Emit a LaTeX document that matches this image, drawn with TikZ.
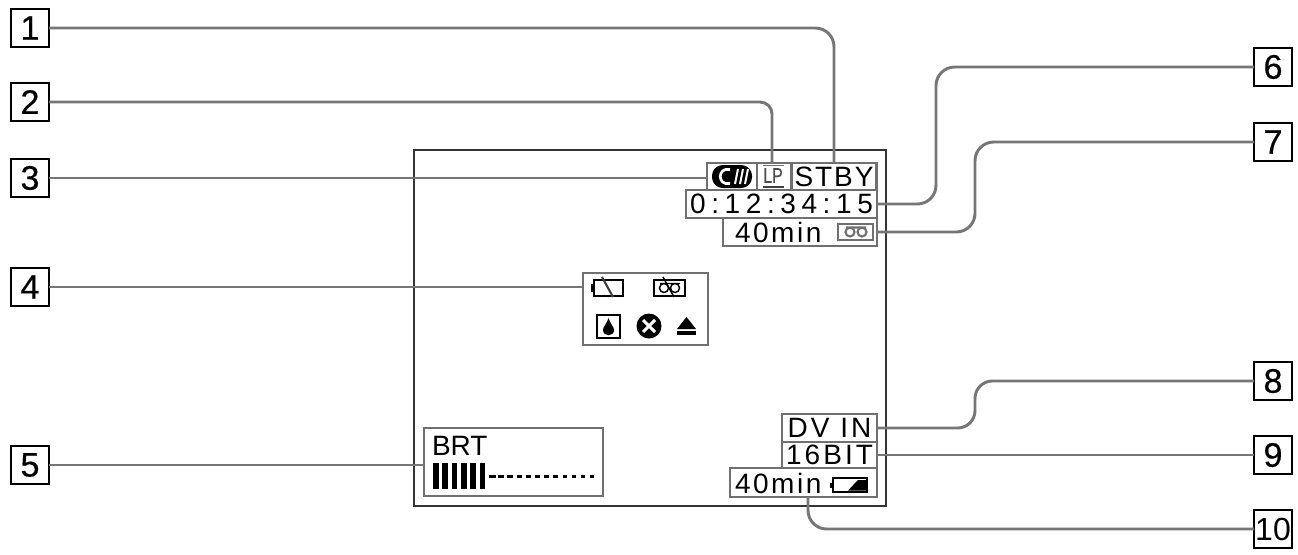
\documentclass[tikz,border=0pt]{standalone}
\usepackage{fontspec}
\usepackage{graphicx}
\setmainfont{Liberation Sans}
\usetikzlibrary{calc}
\definecolor{lead}{HTML}{767676}
\definecolor{fr}{HTML}{333333}
\definecolor{boxg}{HTML}{707070}
\tikzset{
 sz/.style 2 args={minimum width=#1*0.75pt,minimum height=#2*0.75pt},
 tag/.style={draw=black,line width=1.5pt,fill=white,inner sep=0pt,outer sep=0pt,sz={38}{38},font=\fontsize{25.5}{25.5}\selectfont\addfontfeature{FakeBold=0.5}},
 disp/.style={draw=boxg,line width=2.1pt,inner sep=0pt,outer sep=0pt,font=\fontsize{21}{21}\selectfont},
 screen/.style={draw=fr,line width=1.6pt,inner sep=0pt,outer sep=0pt},
 leader/.style={draw=lead,line width=2.2pt,rounded corners=14pt},
 lbl/.style={inner sep=0pt,outer sep=0pt,font=\fontsize{21}{21}\selectfont},
 ico/.style={draw=black,line width=1.5pt},
 tapeico/.style={draw=boxg,line width=1.6pt},
}
\newcommand{\ltr}[2]{\addfontfeature{LetterSpace=#1}#2}
\begin{document}
\begin{tikzpicture}[x=0.75pt,y=-0.75pt]
\useasboundingbox (0,0) rectangle (1298,554);
\fill[white] (0,0) rectangle (1298,554);
% screen
\node[screen,sz={472}{356}] (scr) at (650,328) {};
% display boxes
\node[disp,sz={50}{27}] (cm) at (732,176.5) {};
\node[disp,sz={35}{27}] (lp) at (774.5,176.5) {};
\node[disp,sz={85}{27}] (stby) at (834,176.5) {\ltr{7}{STBY}};
\node[disp,sz={191}{28}] (time) at (781.5,204) {\ltr{20}{0:12:34:15}};
\node[disp,sz={154}{28}] (rem) at (800,232) {};
\node[disp,sz={125}{72}] (warn) at (645.5,309) {};
\node[disp,sz={179}{68}] (brt) at (513.5,462) {};
\node[disp,sz={95}{28}] (dvin) at (829.5,428) {\ltr{11}{DV IN}};
\node[disp,sz={95}{26}] (bit) at (829.5,455) {\ltr{11}{16BIT}};
\node[disp,sz={147}{29}] (bat) at (803.5,482.5) {};
% tags
\node[tag] (t1) at (30,28) {1};
\node[tag] (t2) at (30,102) {2};
\node[tag] (t3) at (30,178) {3};
\node[tag] (t4) at (30,287) {4};
\node[tag] (t5) at (30,465) {5};
\node[tag] (t6) at (1273,67) {6};
\node[tag] (t7) at (1273,142) {7};
\node[tag] (t8) at (1273,381) {8};
\node[tag] (t9) at (1273,455) {9};
\node[tag,font=\fontsize{24}{24}\selectfont] (t10) at (1273,529) {10};
% texts
\node[lbl,anchor=west] (remtxt) at (735,232) {\ltr{9}{40min}};
\node[lbl,anchor=west] (battxt) at (735,483) {\ltr{9}{40min}};
\node[lbl,anchor=west] (brttxt) at (432,446) {BRT};
% connectors
\coordinate (lpin) at (772,163);
\coordinate (batout) at (808,497);
\draw[leader] (t1.east) -| (stby.north);
\draw[leader,rounded corners=9pt] (t2.east) -| (lpin);
\draw[leader] (t3.east) -- (t3.east -| cm.west);
\draw[leader] (t4.east) -- (t4.east -| warn.west);
\draw[leader] (t5.east) -- (t5.east -| brt.west);
\draw[leader] (t6.west) -| (936,204) -- (time.east);
\draw[leader] (t7.west) -| (975,232) -- (rem.east);
\draw[leader,rounded corners=13pt] (t8.west) -| (975,428) -- (dvin.east);
\draw[leader] (t9.west) -- (t9.west -| bit.east);
\draw[leader] (t10.west) -| (batout);
% CM icon
\fill[black,rounded corners=8pt] (712,165) rectangle (752,188);
\draw[white,line width=2pt] (730,169.5) .. controls (717,167) and (717,186) .. (730,183.5);
\draw[white,line width=1.5pt] (735,184) -- (738,169) (740,184) -- (743,169) (745,184) -- (748,169);
% LP icon
\node[inner sep=0pt,text=black!70,font=\fontsize{16}{16}\selectfont\addfontfeature{FakeBold=0.6}] (lptxt) at (773,175.5) {\scalebox{.75}[1]{LP}};
\draw[boxg,line width=1.3pt] (763,165.5) -- (784,165.5);
\draw[black!75,line width=1.6pt] (763,187) -- (784,187);
% tape icon, row 3
\draw[tapeico] (838,224) rectangle (873,240);
\draw[tapeico] (850,232) circle[radius=4.5] (862,232) circle[radius=4.5] (846,227.5) -- (866,227.5);
% warning box
\draw[ico] (594,280) rectangle (623,296);
\fill (591,284) rectangle (594,292);
\draw[tapeico,draw=black!75] (602,277) -- (613,297);
\draw[ico] (654,280) rectangle (685,296);
\draw[ico,line width=1.1pt] (664,288) circle[radius=4.5] (675,288) circle[radius=4.5] (660,283.5) -- (680,283.5);
\draw[ico,line width=1.1pt] (663,277) -- (674,297);
\draw[ico] (597,315) rectangle (620,338);
\fill (608.5,318) .. controls (606,325) and (603,327) .. (603,330) .. controls (603,337) and (614,337) .. (614,330) .. controls (614,327) and (611,325) .. (608.5,318) -- cycle;
\fill (649,326) circle[radius=12.5];
\draw[white,line width=2.2pt] (643,320) -- (655,332) (655,320) -- (643,332);
\fill (686.5,317) -- (696,329) -- (677,329) -- cycle;
\fill (677,331) rectangle (696,334.5);
% brightness bars
\foreach \i in {0,...,5}{\fill ({433+\i*9.3},463) rectangle ({438.6+\i*9.3},489);}
\foreach \i in {0,...,11}{\fill ({489+\i*9.2},474.5) rectangle ({495.5+\i*9.2-\i*0.25},478);}
% small battery
\draw[ico] (833,478) rectangle (867,492);
\fill (830,483) rectangle (833,488);
\fill (848,490.5) -- (858,480) -- (866,480) -- (866,490.5) -- cycle;
\end{tikzpicture}
\end{document}
